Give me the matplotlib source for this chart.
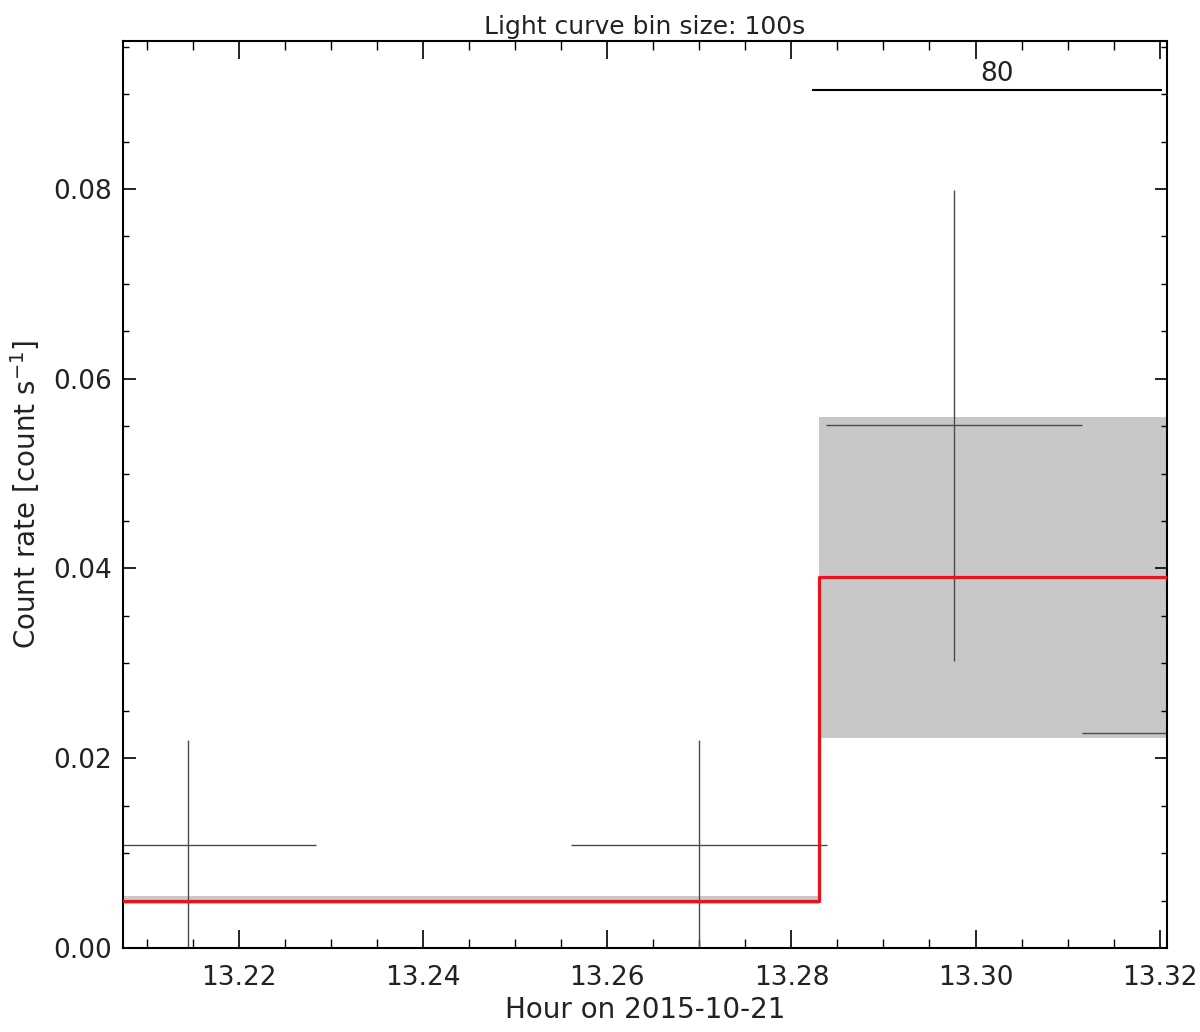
#!/usr/bin/env python3
import matplotlib
matplotlib.use("Agg")
import matplotlib.pyplot as plt
import numpy as np
from matplotlib.ticker import MultipleLocator, FormatStrFormatter

# light curve bins (100 s)
bin_centers = [13.2145, 13.2700, 13.2977, 13.3255]
rates = [0.0109, 0.0109, 0.0551, 0.0227]
rate_err = [0.0110, 0.0110, 0.0248, 0.0227]
half_bin = 50.0 / 3600.0

# blocks (red step) and their uncertainty bands
block_edges = [13.2074, 13.2830, 13.3208]
block_rates = [0.0050, 0.0391]
block_lo = [0.0046, 0.0221]
block_hi = [0.0055, 0.0560]

# marker bar at the top
bar_x = [13.2824, 13.3202]
bar_y = 0.0904
bar_label = "80"
bar_label_x = 13.3023

x_lim = (13.2074, 13.3208)
y_lim = (0.0, 0.0956)

plt.rcParams['font.family'] = ['DejaVu Sans']

fig = plt.figure(figsize=(12, 10.32), dpi=100)
ax = fig.add_axes([0.1025, 0.0814, 0.87, 0.8789])

for i in range(len(block_rates)):
  ax.fill_between([block_edges[i], block_edges[i+1]], block_lo[i], block_hi[i],
                  color='#c8c8c8', linewidth=0, zorder=1)

ax.errorbar(bin_centers, rates, xerr=half_bin, yerr=rate_err, fmt='none',
            ecolor='#4a4a4a', elinewidth=1.0, capsize=0, zorder=2)

step_y = block_rates + [block_rates[-1]]
ax.step(block_edges, step_y, where='post', color='#e8141c', linewidth=2.3, zorder=3)

ax.plot(bar_x, [bar_y, bar_y], color='black', linewidth=1.5, zorder=4)
ax.text(bar_label_x, bar_y + 0.0003, bar_label, ha='center', va='bottom',
        fontsize=19, color='#222222')

ax.set_xlim(*x_lim)
ax.set_ylim(*y_lim)

ax.xaxis.set_major_locator(MultipleLocator(0.02))
ax.xaxis.set_minor_locator(MultipleLocator(0.005))
ax.xaxis.set_major_formatter(FormatStrFormatter('%.2f'))
ax.yaxis.set_major_locator(MultipleLocator(0.02))
ax.yaxis.set_minor_locator(MultipleLocator(0.005))
ax.yaxis.set_major_formatter(FormatStrFormatter('%.2f'))

ax.tick_params(axis='x', which='major', direction='in', length=13, width=1.2,
               top=True, labelsize=19, pad=12, labelcolor='#222222')
ax.tick_params(axis='x', which='minor', direction='in', length=6.5, width=1.0, top=True)
ax.tick_params(axis='y', which='major', direction='in', length=9, width=1.2,
               right=True, labelsize=19, pad=8, labelcolor='#222222')
ax.tick_params(axis='y', which='minor', direction='in', length=4.5, width=1.0, right=True)

for s in ax.spines.values():
  s.set_linewidth(1.5)

ax.set_title('Light curve bin size: 100s', fontsize=18, pad=5, color='#222222')
ax.set_xlabel('Hour on 2015-10-21', fontsize=20, labelpad=4, color='#222222')
ax.set_ylabel(r'Count rate [count s$^{-1}$]', fontsize=20, labelpad=8, color='#222222')

plt.savefig("out.png", dpi=100)
